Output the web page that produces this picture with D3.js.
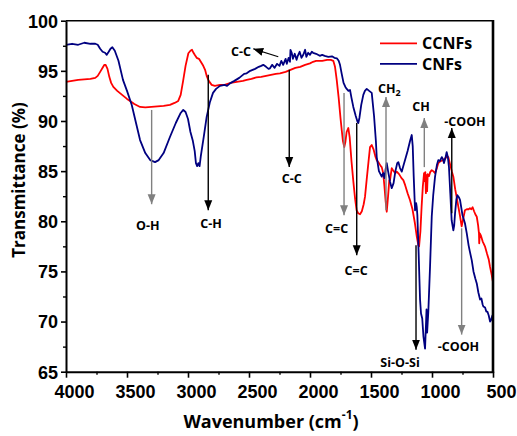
<!DOCTYPE html>
<html><head><meta charset="utf-8">
<script src="https://cdn.jsdelivr.net/npm/d3@7"></script>
<style>
html,body{margin:0;padding:0;background:#fff;}
svg{display:block;}
</style></head>
<body>
<svg id="chart" width="517" height="436"></svg>
<script>
// ---------- DATA ----------
const seriesNames = ["CCNFs", "CNFs"];
const seriesColors = ["#ff0000", "#000080"];

const cnfsWavenumber = [4000,3950,3900,3850,3800,3760,3740,3720,3700,3680,3666,3650,3635,3620,3600,3570,3533,3500,3461,3430,3393,3350,3310,3270,3240,3200,3148,3100,3060,3039,3020,3000,2980,2960,2945,2935,2925,2915,2905,2895,2870,2847,2820,2795,2770,2738,2700,2680,2656,2620,2580,2540,2519,2490,2450,2420,2400,2383,2360,2340,2328,2310,2290,2270,2250,2235,2220,2200,2190,2175,2164,2160,2150,2140,2125,2110,2100,2085,2070,2055,2040,2030,2015,2000,1985,1975,1950,1920,1900,1880,1850,1820,1800,1780,1765,1754,1740,1725,1710,1699,1685,1672,1660,1645,1625,1610,1604,1595,1580,1563,1550,1535,1515,1494,1475,1460,1453,1435,1412,1400,1390,1380,1371,1360,1345,1330,1315,1300,1285,1276,1262,1248,1235,1221,1200,1180,1166,1158,1150,1139,1130,1125,1120,1110,1098,1090,1080,1070,1057,1050,1045,1040,1030,1016,1002,990,975,960,948,935,920,910,902,890,880,870,861,850,839,825,818,811,800,792,780,770,750,730,715,700,690,674,660,645,633,620,606,595,585,579,565,555,546,535,524,515,505,500];
const cnfsTransmittance = [97.6,97.7,97.6,97.8,97.7,97.7,97.6,97.2,96.9,96.8,96.6,96.9,97.2,97.35,97.0,96.0,94.1,93.0,91.6,90.0,88.1,86.8,86.1,85.9,86.1,86.8,88.4,89.8,90.8,91.1,90.9,90.2,88.9,88.0,87.0,85.8,85.5,85.8,85.5,86.5,88.5,90.4,91.9,92.8,93.2,93.5,93.6,93.5,93.75,94.0,94.3,94.7,94.75,95.0,95.2,95.4,95.5,95.6,95.4,95.2,95.25,95.6,95.3,95.7,95.5,96.0,95.6,96.2,95.7,96.3,95.9,97.1,96.8,96.2,96.7,96.1,96.5,96.9,96.3,96.6,97.1,96.4,96.8,96.6,96.9,96.8,96.7,96.5,96.6,96.5,96.4,96.45,96.3,96.25,96.0,95.6,94.7,93.8,93.4,93.2,93.0,93.1,92.3,91.4,90.5,89.9,89.8,90.3,91.6,92.6,93.0,93.2,93.0,92.8,90.5,88.0,86.4,85.0,84.45,84.8,84.3,85.2,85.8,85.0,84.0,83.3,83.8,85.0,85.8,85.9,85.3,84.95,85.5,86.1,87.0,88.0,88.6,87.5,84.5,81.1,81.8,81.4,80.6,77.0,72.2,70.8,70.3,68.5,67.3,69.5,71.2,68.9,71.0,75.5,80.5,82.6,84.45,85.6,86.1,86.0,86.4,86.2,85.8,86.3,86.9,86.4,85.4,82.8,80.1,79.1,79.6,80.8,82.2,82.6,82.4,82.1,80.6,79.8,78.8,77.6,77.0,76.1,75.0,74.3,73.8,72.9,72.2,72.3,71.7,71.5,71.4,71.0,71.0,70.6,70.0,70.2,70.6,69.8];

const ccnfsWavenumber = [4000,3950,3900,3850,3800,3760,3740,3720,3700,3685,3675,3660,3645,3630,3612,3580,3540,3500,3475,3440,3393,3350,3300,3250,3200,3148,3110,3080,3060,3040,3020,2997,2980,2967,2955,2945,2929,2910,2895,2875,2860,2847,2830,2806,2780,2738,2700,2650,2600,2550,2519,2480,2440,2400,2360,2320,2280,2246,2200,2160,2120,2080,2040,2000,1975,1950,1900,1860,1830,1809,1795,1781,1765,1750,1740,1730,1719,1710,1700,1686,1675,1660,1645,1630,1618,1605,1590,1575,1560,1549,1535,1520,1508,1494,1480,1465,1453,1435,1420,1412,1400,1390,1380,1371,1360,1350,1344,1330,1315,1300,1289,1270,1250,1235,1220,1200,1180,1160,1140,1125,1112,1106,1095,1085,1075,1065,1060,1055,1050,1045,1040,1035,1025,1015,1002,990,975,960,948,930,907,890,875,866,850,838,825,810,795,784,770,757,745,730,715,700,689,678,667,655,645,633,622,615,613,608,600,585,566,550,535,525,510,500];
const ccnfsTransmittance = [93.9,94.0,94.1,94.15,94.2,94.3,94.5,94.9,95.3,95.6,95.6,95.2,94.4,93.8,93.4,93.0,92.6,92.2,92.0,91.7,91.4,91.35,91.4,91.45,91.5,91.6,91.8,92.0,92.6,94.0,95.5,96.75,97.0,97.1,96.8,96.6,96.3,96.2,95.9,95.5,95.1,94.5,94.0,93.6,93.5,93.6,93.6,93.8,93.9,94.0,94.1,94.2,94.35,94.4,94.5,94.6,94.7,94.75,94.9,95.1,95.3,95.4,95.6,95.75,95.9,96.0,96.0,96.1,96.1,96.0,95.4,94.1,92.3,90.3,89.1,88.0,87.4,87.9,88.9,89.3,88.4,86.0,84.0,82.2,81.1,80.8,80.7,81.0,81.7,82.45,84.2,86.0,87.4,87.6,87.2,86.5,86.1,85.8,85.5,85.4,84.8,83.5,82.0,80.95,82.5,84.1,84.1,85.3,85.0,84.8,84.95,84.7,84.3,84.1,83.6,82.8,82.1,81.2,79.8,78.5,77.6,77.5,79.0,81.5,83.5,84.8,84.0,84.9,82.8,84.6,83.0,84.7,84.5,84.9,85.1,85.0,84.8,85.3,85.8,86.0,86.1,86.3,86.5,86.4,85.6,85.0,84.45,83.2,82.2,81.45,80.5,79.5,80.2,81.1,81.2,81.2,81.3,81.2,81.4,81.0,80.7,80.45,79.6,78.8,77.8,78.8,78.6,78.0,77.5,76.8,76.2,75.5,74.6,73.9];

const xTickValues = [4000,3500,3000,2500,2000,1500,1000,500];
const xMinorTicks = [3750,3250,2750,2250,1750,1250,750];
const yTickValues = [65,70,75,80,85,90,95,100];
const yMinorTicks = [67.5,72.5,77.5,82.5,87.5,92.5,97.5];

// annotations: label, arrow x (wavenumber), arrow from / to (transmittance), label position
const annLabels   = ["O-H","C-H","C-C","C=C","C=C","CH2","CH","-COOH","Si-O-Si","-COOH"];
const annX        = [3298,2834,2170,1721,1617,1377,1063,838,1131,757];
const annFrom     = [91.1,94.6,95.1,92.8,89.8,81.1,85.4,80.8,77.6,79.3];
const annTo       = [81.7,81.1,85.4,80.6,76.6,92.4,90.3,89.3,67.2,68.7];
const annTextX    = [3330,2811,2150,1782,1622,1350,1090,730,1262,783];
const annTextY    = [79.6,79.8,84.3,79.3,75.1,93.3,91.4,89.9,65.9,67.5];
const annGray     = [true,false,false,true,false,true,true,false,false,true];
// diagonal C-C arrow
const ccDiag = {label:"C-C", textX:2566, textY:96.9, fromX:2260, fromY:96.4, toX:2465, toY:97.2};

// ---------- CHART ----------
const svg = d3.select("#chart");
const x = d3.scaleLinear().domain([4000,500]).range([66,493]);
const y = d3.scaleLinear().domain([65,100]).range([371.7,20.7]);

const defs = svg.append("defs");
function marker(id, color){
  defs.append("marker").attr("id",id).attr("viewBox","0 0 10 10")
    .attr("refX",10).attr("refY",5).attr("markerWidth",10).attr("markerHeight",10)
    .attr("markerUnits","userSpaceOnUse").attr("orient","auto")
    .append("path").attr("d","M0,1 L10,5 L0,9 Z").attr("fill",color);
}
marker("ab","#000"); marker("ag","#808080");

// lines
const line = d3.line().x(d=>x(d[0])).y(d=>y(d[1]));
const seriesData = [
  d3.zip(ccnfsWavenumber, ccnfsTransmittance),
  d3.zip(cnfsWavenumber, cnfsTransmittance)
];
// draw CCNFs first? blue drawn over red in most places
svg.append("path").datum(seriesData[0]).attr("d",line).attr("fill","none")
  .attr("stroke",seriesColors[0]).attr("stroke-width",1.8).attr("stroke-linejoin","round");
svg.append("path").datum(seriesData[1]).attr("d",line).attr("fill","none")
  .attr("stroke",seriesColors[1]).attr("stroke-width",1.8).attr("stroke-linejoin","round");

// annotations
const fontAnn = "'Open Sans', sans-serif";
annLabels.forEach((lab,i)=>{
  const col = annGray[i] ? "#808080" : "#000";
  svg.append("line").attr("x1",x(annX[i])).attr("x2",x(annX[i]))
    .attr("y1",y(annFrom[i])).attr("y2",y(annTo[i]))
    .attr("stroke",col).attr("stroke-width",1.4)
    .attr("marker-end",`url(#${annGray[i]?"ag":"ab"})`);
  const t = svg.append("text").attr("x",x(annTextX[i])).attr("y",y(annTextY[i]))
    .attr("text-anchor","middle").attr("dominant-baseline","central")
    .style("font-family",fontAnn).style("font-weight","bold").style("font-size","12.5px");
  if(lab==="CH2"){
    t.append("tspan").text("CH");
    t.append("tspan").text("2").attr("dy","4").style("font-size","9px");
  } else t.text(lab);
});
svg.append("line").attr("x1",x(ccDiag.fromX)).attr("y1",y(ccDiag.fromY))
  .attr("x2",x(ccDiag.toX)).attr("y2",y(ccDiag.toY))
  .attr("stroke","#000").attr("stroke-width",1.2).attr("marker-end","url(#ab)");
svg.append("text").attr("x",x(ccDiag.textX)).attr("y",y(ccDiag.textY))
  .attr("text-anchor","middle").attr("dominant-baseline","central")
  .style("font-family",fontAnn).style("font-weight","bold").style("font-size","12.5px")
  .text(ccDiag.label);

// axes
const tickFont = "'Liberation Sans', Arial, sans-serif";
const xAxis = d3.axisBottom(x).tickValues(xTickValues).tickSize(6).tickSizeOuter(0).tickFormat(d3.format("d"));
const gx = svg.append("g").attr("transform",`translate(0,${y(65)})`).call(xAxis);
gx.select(".domain").attr("stroke-width",2);
gx.selectAll(".tick line").attr("stroke-width",1.6);
gx.selectAll(".tick text").attr("dx",8).attr("dy","0.95em")
  .style("font-family",tickFont).style("font-weight","bold").style("font-size","18px").attr("fill","#000");
svg.append("g").attr("transform",`translate(0,${y(65)})`)
  .call(d3.axisBottom(x).tickValues(xMinorTicks).tickSize(3).tickFormat(""))
  .call(g=>{g.select(".domain").remove(); g.selectAll(".tick line").attr("stroke-width",1.4);});

const yAxis = d3.axisLeft(y).tickValues(yTickValues).tickSize(5).tickSizeOuter(0);
const gy = svg.append("g").attr("transform",`translate(${x(4000)},0)`).call(yAxis);
gy.select(".domain").attr("stroke-width",2);
gy.selectAll(".tick line").attr("stroke-width",1.6);
gy.selectAll(".tick text").attr("x",-8).attr("dy","0.35em")
  .style("font-family",tickFont).style("font-weight","bold").style("font-size","18px").attr("fill","#000");
svg.append("g").attr("transform",`translate(${x(4000)},0)`)
  .call(d3.axisLeft(y).tickValues(yMinorTicks).tickSize(3).tickFormat(""))
  .call(g=>{g.select(".domain").remove(); g.selectAll(".tick line").attr("stroke-width",1.4);});

// frame top and right
svg.append("line").attr("x1",x(4000)).attr("x2",x(500)).attr("y1",y(100)).attr("y2",y(100))
  .attr("stroke","#000").attr("stroke-width",1.6);
svg.append("line").attr("x1",x(500)).attr("x2",x(500)).attr("y1",y(100)-0.8).attr("y2",y(65)+1)
  .attr("stroke","#000").attr("stroke-width",2.6);

// axis titles
const titleFont = "'Open Sans', sans-serif";
const xt = svg.append("text").attr("x",271).attr("y",421).attr("text-anchor","middle")
  .attr("dominant-baseline","central")
  .style("font-family",titleFont).style("font-weight","bold").style("font-size","18px");
xt.append("tspan").text("Wavenumber (cm");
xt.append("tspan").text("-1").attr("dy","-7").style("font-size","12px");
xt.append("tspan").text(")").attr("dy","7");

svg.append("text").attr("transform","translate(18,180) rotate(-90)")
  .attr("text-anchor","middle").attr("dominant-baseline","central")
  .style("font-family",titleFont).style("font-weight","bold").style("font-size","17px")
  .text("Transmittance (%)");

// legend
const legY = [43.3, 63.8];
seriesNames.forEach((n,i)=>{
  svg.append("line").attr("x1",380).attr("x2",417).attr("y1",legY[i]).attr("y2",legY[i])
    .attr("stroke",seriesColors[i]).attr("stroke-width",1.8);
  svg.append("text").attr("x",422).attr("y",legY[i]).attr("dominant-baseline","central")
    .style("font-family",titleFont).style("font-weight","bold").style("font-size","16px").text(n);
});
</script>
</body></html>
